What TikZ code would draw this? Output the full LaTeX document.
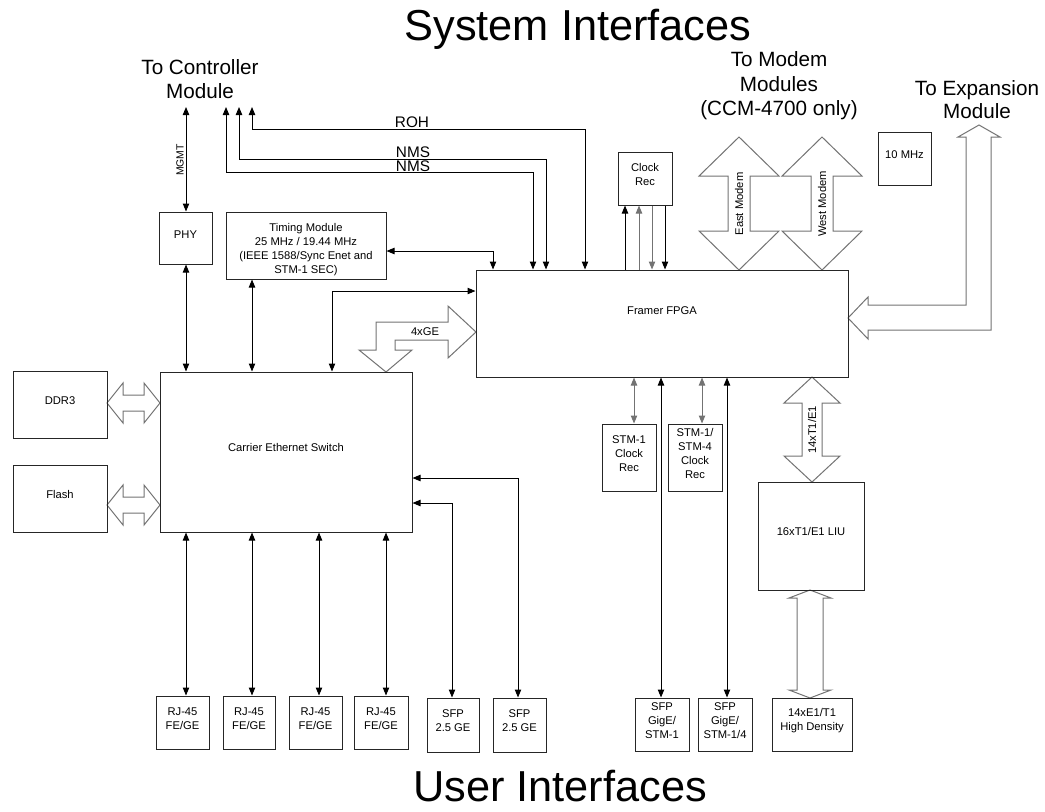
\documentclass[tikz,border=0pt]{standalone}
\usepackage{fontspec}
\setmainfont{Liberation Sans}
\usetikzlibrary{arrows.meta,fit,calc}
\begin{document}
\begin{tikzpicture}[x=0.75pt,y=-0.75pt,
  box/.style={draw=black!85, line width=0.75pt, inner sep=0pt, align=center, font=\fontsize{8.4}{10.5}\selectfont},
  conn/.style={line width=0.75pt, draw=black},
  both/.style={conn, {Triangle[length=6pt,width=4.8pt]}-{Triangle[length=6pt,width=4.8pt]}},
  tip/.style={conn, -{Triangle[length=6pt,width=4.8pt]}},
  grey/.style={draw=black!55},
  blk/.style={draw=black!55, line width=0.75pt, fill=white, line join=miter},
  lbl/.style={font=\fontsize{8.4}{10.5}\selectfont, inner sep=0pt, align=center},
  small/.style={font=\fontsize{7.8}{9}\selectfont, inner sep=0pt},
  mid/.style={font=\fontsize{11.5}{13}\selectfont, inner sep=0pt},
  big/.style={font=\fontsize{32.5}{36}\selectfont, inner sep=0pt},
  head/.style={font=\fontsize{15.5}{18}\selectfont, inner sep=0pt},
]
\path[use as bounding box] (0,0) rectangle (1045,811);

% ---------- titles ----------
\node[big, anchor=base] (title) at (578,40) {System Interfaces};
\node[big, anchor=base] (utitle) at (560,801) {User Interfaces};
\node[head, anchor=base] (tc1) at (200,74) {To Controller};
\node[head, anchor=base] (tc2) at (200,98) {Module};
\node[head, anchor=base] (tm1) at (779,66) {To Modem};
\node[head, anchor=base] (tm2) at (779,91) {Modules};
\node[head, anchor=base] (tm3) at (779,115) {(CCM-4700 only)};
\node[head, anchor=base] (te1) at (977,95) {To Expansion};
\node[head, anchor=base] (te2) at (977,118) {Module};

% ---------- block arrows ----------
% East / West modem
\foreach \cx in {739,822}{
  \draw[blk] (\cx,137) -- (\cx+40,176) -- (\cx+11,176) -- (\cx+11,231) -- (\cx+40,231)
    -- (\cx,270) -- (\cx-40,231) -- (\cx-11,231) -- (\cx-11,176) -- (\cx-40,176) -- cycle;
}
\node[lbl, rotate=90] (east) at (739,204) {East Modem};
\node[lbl, rotate=90] (west) at (822,204) {West Modem};
% expansion
\draw[blk] (848,318) -- (868,297) -- (868,305) -- (966,305) -- (966,137) -- (958,137)
  -- (979,125) -- (1000,137) -- (991,137) -- (991,330) -- (868,330) -- (868,339) -- cycle;
% 4xGE
\draw[blk] (476,332) -- (448,306) -- (448,322) -- (376,322) -- (376,350) -- (359,350)
  -- (386,372) -- (412,350) -- (395,350) -- (395,340) -- (448,340) -- (448,358) -- cycle;
\node[lbl] (gelbl) at (425,332) {4xGE};
% DDR3 / Flash
\foreach \cy in {403,505}{
  \draw[blk] (107,\cy) -- (123,\cy-20) -- (123,\cy-8) -- (144,\cy-8) -- (144,\cy-20)
    -- (160,\cy) -- (144,\cy+20) -- (144,\cy+8) -- (123,\cy+8) -- (123,\cy+20) -- cycle;
}
% 14xT1/E1
\draw[blk] (812,377) -- (840,403) -- (822,403) -- (822,456) -- (840,456) -- (812,482)
  -- (784,456) -- (802,456) -- (802,403) -- (784,403) -- cycle;
\node[lbl, rotate=90] (t1e1) at (812,430) {14xT1/E1};
% LIU to high density
\draw[blk] (810,590) -- (831,598) -- (823,598) -- (823,690) -- (831,690) -- (810,698)
  -- (789,690) -- (797,690) -- (797,598) -- (789,598) -- cycle;

% ---------- boxes ----------
\node[box, fit={(159,212) (212,264)}] (phy) {PHY};
\node[box, fit={(226,212) (386,279)}] (timing) {};
\node[lbl] (timinglbl) at (306,250) {Timing Module\\25 MHz / 19.44 MHz\\(IEEE 1588/Sync Enet and\\STM-1 SEC)};
\node[box, fit={(476,270) (848,377)}] (fpga) {};
\node[lbl] (fpgalbl) at (662,311) {Framer FPGA};
\node[box, fit={(618,152) (672,205)}] (clock) {Clock\\Rec};
\node[box, fit={(878,132) (931,185)}] (tenmhz) {10 MHz};
\node[box, fit={(13,371) (107,438)}] (ddr) {DDR3};
\node[box, fit={(13,465) (107,532)}] (flash) {Flash};
\node[box, fit={(160,372) (412,532)}] (sw) {Carrier Ethernet Switch};
\node[box, fit={(156,696) (209,749)}] (rj1) {RJ-45\\FE/GE};
\node[box, fit={(223,696) (275,749)}] (rj2) {RJ-45\\FE/GE};
\node[box, fit={(289,696) (342,749)}] (rj3) {RJ-45\\FE/GE};
\node[box, fit={(354,696) (408,749)}] (rj4) {RJ-45\\FE/GE};
\node[box, fit={(427,698) (479,752)}] (sfp1) {SFP\\2.5 GE};
\node[box, fit={(493,698) (546,752)}] (sfp2) {SFP\\2.5 GE};
\node[box, fit={(602,424) (656,491)}] (stm1) {STM-1\\Clock\\Rec};
\node[box, fit={(668,424) (722,491)}] (stm4) {STM-1/\\STM-4\\Clock\\Rec};
\node[box, fit={(758,482) (864,590)}] (liu) {16xT1/E1 LIU};
\node[box, fit={(635,698) (689,751)}] (sfpg1) {SFP\\GigE/\\STM-1};
\node[box, fit={(698,698) (752,751)}] (sfpg4) {SFP\\GigE/\\STM-1/4};
\node[box, fit={(772,698) (852,751)}] (hd) {14xE1/T1\\High Density};

% ---------- connectors ----------
\coordinate (cm0) at (186,107);
\coordinate (cm1) at (226,107);
\coordinate (cm2) at (239,107);
\coordinate (cm3) at (252,107);
\coordinate (n1) at (533,172);
\coordinate (n2) at (546,159);
\coordinate (n3) at (585,129);
\draw[both] (cm0) -- (cm0 |- phy.north);
\node[small, rotate=90] (mgmt) at (180,160) {MGMT};
\draw[both] (cm1) |- (n1) -- (n1 |- fpga.north);
\draw[both] (cm2) |- (n2) -- (n2 |- fpga.north);
\draw[both] (cm3) |- (n3) -- (n3 |- fpga.north);
\node[mid, anchor=base] (roh) at (412,127) {ROH};
\node[mid, anchor=base] (nms1) at (413,157) {NMS};
\node[mid, anchor=base] (nms2) at (413,171) {NMS};

\coordinate (t1) at (493,251);
\draw[both] (timing.east |- t1) -- (t1) -- (t1 |- fpga.north);

\coordinate (k1) at (625,0);
\coordinate (k2) at (639,0);
\coordinate (k3) at (652,0);
\coordinate (k4) at (665,0);
\draw[tip] (k1 |- fpga.north) -- (k1 |- clock.south);
\draw[tip, grey] (k2 |- fpga.north) -- (k2 |- clock.south);
\draw[tip, grey] (k3 |- clock.south) -- (k3 |- fpga.north);
\draw[tip] (k4 |- clock.south) -- (k4 |- fpga.north);

\draw[both] (phy.south -| cm0) -- (cm0 |- sw.north);
\coordinate (t2) at (252,0);
\draw[both] (t2 |- timing.south) -- (t2 |- sw.north);
\coordinate (f1) at (332,291);
\draw[both] (f1 |- sw.north) -- (f1) -- (f1 -| fpga.west);

\coordinate (r1) at (186,0);
\coordinate (r2) at (252,0);
\coordinate (r3) at (319,0);
\coordinate (r4) at (386,0);
\draw[both] (r1 |- sw.south) -- (r1 |- rj1.north);
\draw[both] (r2 |- sw.south) -- (r2 |- rj2.north);
\draw[both] (r3 |- sw.south) -- (r3 |- rj3.north);
\draw[both] (r4 |- sw.south) -- (r4 |- rj4.north);

\coordinate (s1) at (452,503);
\coordinate (s2) at (518,478);
\draw[both] (s1 -| sw.east) -- (s1) -- (s1 |- sfp1.north);
\draw[both] (s2 -| sw.east) -- (s2) -- (s2 |- sfp2.north);

\coordinate (m1) at (634,0);
\coordinate (m2) at (702,0);
\draw[both, grey] (m1 |- fpga.south) -- (m1 |- stm1.north);
\draw[both, grey] (m2 |- fpga.south) -- (m2 |- stm4.north);
\coordinate (g1) at (661,0);
\coordinate (g2) at (727,0);
\draw[both] (g1 |- fpga.south) -- (g1 |- sfpg1.north);
\draw[both] (g2 |- fpga.south) -- (g2 |- sfpg4.north);
\end{tikzpicture}
\end{document}
